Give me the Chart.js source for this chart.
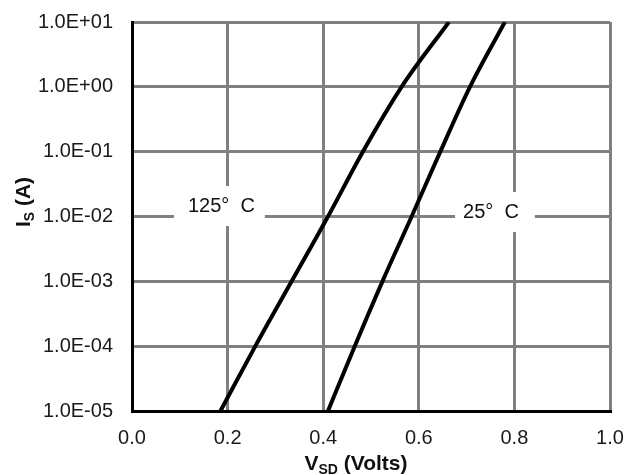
<!DOCTYPE html>
<html>
<head>
<meta charset="utf-8">
<script src="https://cdn.jsdelivr.net/npm/chart.js@4/dist/chart.umd.min.js"></script>
<style>
  html, body { margin: 0; padding: 0; background: #fff; }
  #wrap { width: 632px; height: 475px; }
</style>
</head>
<body>
<div id="wrap"><canvas id="diodeChart" width="632" height="475"></canvas></div>
<script>
// source current levels (A)
const currents = [1e-5, 1e-4, 1e-3, 1e-2, 1e-1, 1, 10];
// forward voltage at each current level (V)
const vsd125 = [0.185, 0.258, 0.334, 0.410, 0.483, 0.564, 0.663];
const vsd25 = [0.410, 0.466, 0.524, 0.585, 0.645, 0.707, 0.780];
const yTicks = [1e-5, 1e-4, 1e-3, 1e-2, 1e-1, 1, 10];
const curveLabels = [
    { text: "125°  C", x: 0.187, y: 1.45e-2, boxDx: 4 },
    { text: "25°  C", x: 0.751, y: 1.17e-2, boxDx: 10 }
];

const FONT = "'Liberation Sans', Arial, sans-serif";

function toPoints(xs) {
    return xs.map((v, i) => ({ x: v, y: currents[i] }));
}

function sciLabel(v) {
    const e = Math.round(Math.log10(v));
    const sign = e < 0 ? "-" : "+";
    const abs = Math.abs(e);
    return "1.0E" + sign + (abs < 10 ? "0" : "") + abs;
}

// titles with subscripts + white-boxed curve labels
const annotations = {
    id: "annotations",
    beforeDatasetsDraw(chart) {
        const { ctx, scales } = chart;
        ctx.save();
        ctx.font = "20px " + FONT;
        ctx.textBaseline = "middle";
        ctx.textAlign = "center";
        curveLabels.forEach(l => {
            const px = scales.x.getPixelForValue(l.x);
            const py = scales.y.getPixelForValue(l.y);
            const w = ctx.measureText(l.text).width + 24;
            ctx.fillStyle = "#fff";
            ctx.fillRect(px - w / 2 + l.boxDx - 6, py - 20, w, 40);
            ctx.fillStyle = "#111";
            ctx.fillText(l.text, px, py);
        });
        ctx.restore();
    },
    afterDraw(chart) {
        const { ctx } = chart;
        ctx.save();
        ctx.fillStyle = "#111";
        ctx.textBaseline = "alphabetic";
        ctx.textAlign = "left";
        const big = "bold 21px " + FONT;
        const small = "bold 14px " + FONT;
        // x title
        ctx.font = big;
        const wV = ctx.measureText("V").width;
        const wRest = ctx.measureText(" (Volts)").width;
        ctx.font = small;
        const wSub = ctx.measureText("SD").width;
        let x0 = 356 - (wV + wSub + wRest) / 2;
        const yb = 470;
        ctx.font = big;
        ctx.fillText("V", x0, yb);
        ctx.font = small;
        ctx.fillText("SD", x0 + wV, yb + 4);
        ctx.font = big;
        ctx.fillText(" (Volts)", x0 + wV + wSub, yb);
        // y title, rotated
        ctx.translate(30, 202);
        ctx.rotate(-Math.PI / 2);
        ctx.font = big;
        const wI = ctx.measureText("I").width;
        const wA = ctx.measureText(" (A)").width;
        ctx.font = small;
        const wS = ctx.measureText("S").width;
        x0 = -(wI + wS + wA) / 2;
        ctx.font = big;
        ctx.fillText("I", x0, 0);
        ctx.font = small;
        ctx.fillText("S", x0 + wI, 4);
        ctx.font = big;
        ctx.fillText(" (A)", x0 + wI + wS, 0);
        ctx.restore();
    }
};

new Chart(document.getElementById("diodeChart"), {
    type: "line",
    data: {
        datasets: [
            {
                label: "125 C",
                data: toPoints(vsd125),
                borderColor: "#000",
                borderWidth: 4,
                pointRadius: 0,
                cubicInterpolationMode: "monotone"
            },
            {
                label: "25 C",
                data: toPoints(vsd25),
                borderColor: "#000",
                borderWidth: 4,
                pointRadius: 0,
                cubicInterpolationMode: "monotone"
            }
        ]
    },
    options: {
        responsive: false,
        animation: false,
        layout: {
            padding: { left: 0, right: 22, top: 22, bottom: 0 }
        },
        plugins: {
            legend: { display: false },
            tooltip: { enabled: false }
        },
        scales: {
            x: {
                type: "linear",
                min: 0,
                max: 1,
                afterFit: s => { s.height = 64; s.paddingLeft = 0; s.paddingRight = 0; },
                ticks: {
                    stepSize: 0.2,
                    padding: 15,
                    color: "#1a1a1a",
                    font: { size: 20, family: FONT },
                    callback: v => v.toFixed(1)
                },
                grid: { color: "#808080", lineWidth: 3, drawTicks: false },
                border: { color: "#000", width: 3 }
            },
            y: {
                type: "logarithmic",
                min: 1e-5,
                max: 10,
                afterFit: s => { s.width = 132; s.paddingTop = 0; s.paddingBottom = 0; },
                afterBuildTicks: s => { s.ticks = yTicks.map(v => ({ value: v })); },
                ticks: {
                    padding: 19,
                    color: "#1a1a1a",
                    font: { size: 20, family: FONT },
                    callback: v => sciLabel(v)
                },
                grid: { color: "#808080", lineWidth: 3, drawTicks: false },
                border: { color: "#000", width: 3 }
            }
        }
    },
    plugins: [annotations]
});
</script>
</body>
</html>
